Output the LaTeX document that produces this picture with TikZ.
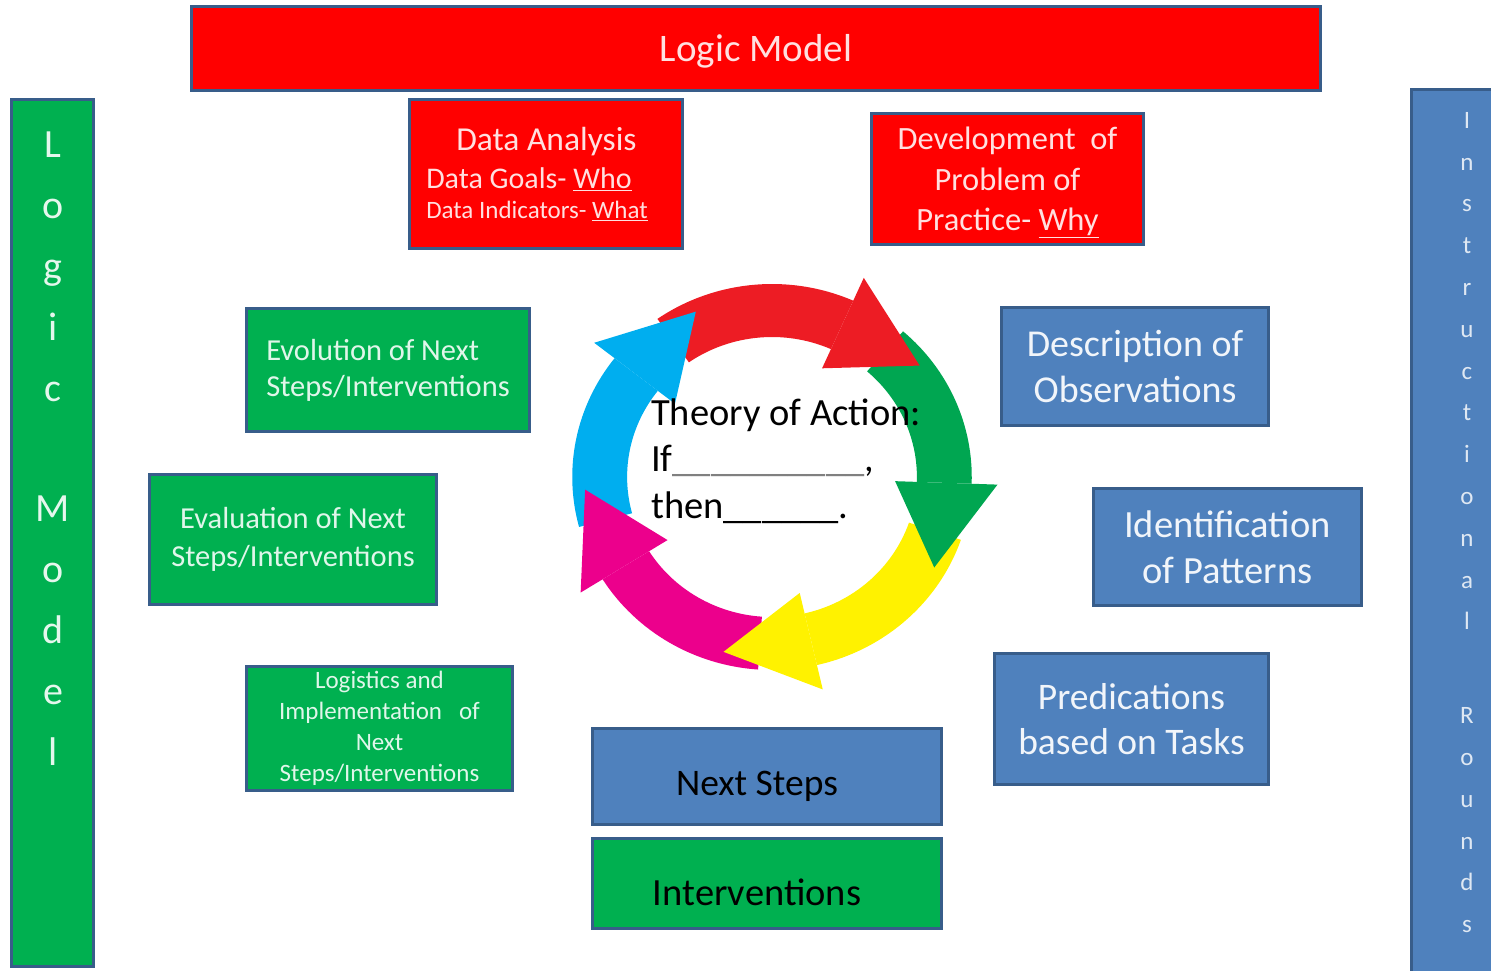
\documentclass[tikz,border=0pt]{standalone}
\usepackage{fontspec}
\setmainfont{Carlito}
\definecolor{bord}{HTML}{385D8A}
\definecolor{boxred}{HTML}{FF0000}
\definecolor{boxgreen}{HTML}{00B050}
\definecolor{boxblue}{HTML}{4F81BD}
\definecolor{arcred}{HTML}{ED1C24}
\definecolor{arcgreen}{HTML}{00A651}
\definecolor{arcyellow}{HTML}{FFF200}
\definecolor{arcmagenta}{HTML}{EC008C}
\definecolor{arccyan}{HTML}{00AEEF}
% ring segment of the cycle: colour, tail angle, head-base angle
\newcommand\cycbody[3]{%
  \fill[#1] (#2:193) arc[start angle=#2, end angle=#3, radius=193]
    -- (#3:140) arc[start angle=#3, end angle=#2, radius=140] -- cycle;}
% arrow head of a ring segment: colour, head-base angle, tip angle
\newcommand\cychead[3]{%
  \fill[#1] (#2:218) -- (#3:181) -- (#2:119) -- cycle;}
\newcommand\fs[2]{\fontsize{#1}{#2}\selectfont}
\begin{document}
\begin{tikzpicture}[x=1pt, y=-1pt,
  box/.style={draw=bord, line width=3pt, inner sep=0pt, align=center},
  redbox/.style={box, fill=boxred, text=white!88!boxred},
  greenbox/.style={box, fill=boxgreen, text=white!88!boxgreen},
  bluebox/.style={box, fill=boxblue, text=white!92!boxblue},
  barlabel/.style={anchor=north, align=center, inner sep=0pt}]
\useasboundingbox (0,0) rectangle (1491,970);

% frame: title and the two side bars
\node[redbox, minimum width=1129pt, minimum height=84pt, font=\fs{39}{47}, text height=30pt, text depth=5pt] (title) at (756,48.5) {Logic Model};
\node[greenbox, minimum width=82pt, minimum height=867pt] (leftbar) at (52.5,533) {};
\node[barlabel, text=white!90!boxgreen, font=\fs{40}{61}] (leftlbl) at (53,132)
  {L\\o\\g\\i\\c\\[59pt]M\\o\\d\\e\\l};
\node[bluebox, minimum width=111pt, minimum height=884pt] (rightbar) at (1467,531.5) {};
\node[barlabel, text=white!82!boxblue, font=\fs{25}{41.8}] (rightlbl) at (1467,112)
  {I\\n\\s\\t\\r\\u\\c\\t\\i\\o\\n\\a\\l\\[52pt]R\\o\\u\\n\\d\\s};

% red boxes
\node[redbox, minimum width=273pt, minimum height=149pt, align=left, font=\fs{30}{38}] (data) at (546,174)
  {\hspace*{30pt}{\fs{33.5}{38}Data Analysis}\\ Data Goals- \underline{Who}\\[-8pt] {\fs{25}{30}Data Indicators- \underline{What}}\hspace*{18pt}};
\node[redbox, minimum width=272pt, minimum height=131pt, font=\fs{32.5}{40.5}, text depth=0pt] (devel) at (1007.5,179)
  {Development\ \ of\\Problem of\\Practice- \underline{Why}};

% green boxes
\node[greenbox, minimum width=283pt, minimum height=123pt, align=left, font=\fs{30.5}{36}] (evol) at (388,370)
  {Evolution of Next\\Steps/Interventions};
\node[greenbox, minimum width=287pt, minimum height=130pt, font=\fs{30.5}{38}] (evalu) at (293,539.5)
  {Evaluation of Next\\Steps/Interventions};
\node[greenbox, minimum width=266pt, minimum height=124pt, font=\fs{25}{31}] (logis) at (379.5,728.5)
  {Logistics and\\Implementation\ \ \ of\\Next\\Steps/Interventions};
\node[greenbox, text=black, minimum width=349pt, minimum height=90pt, font=\fs{38.5}{46}, text height=46pt, text depth=2pt] (interv) at (767,883.5)
  {\hspace*{-20pt}Interventions};

% blue boxes
\node[bluebox, text=black, minimum width=349pt, minimum height=96pt, font=\fs{37.5}{46}, text height=40pt, text depth=3pt] (next) at (767,776.5)
  {\hspace*{-20pt}Next Steps};
\node[bluebox, minimum width=267pt, minimum height=118pt, font=\fs{38}{46}] (descr) at (1135,366.5)
  {Description of\\Observations};
\node[bluebox, minimum width=268pt, minimum height=117pt, font=\fs{38.5}{46}] (ident) at (1227.5,547)
  {Identification\\of Patterns};
\node[bluebox, minimum width=274pt, minimum height=131pt, font=\fs{37.5}{45}] (predic) at (1131.5,719)
  {Predications\\based on Tasks};

% the cycle of five curved arrows
\begin{scope}[shift={(772,477)}, x=1.035pt, y=1pt]
  \cycbody{arcred}{125}{66}
  \cycbody{arcgreen}{49}{-2}
  \cycbody{arcyellow}{-19}{-77}
  \cycbody{arcmagenta}{-94}{-148}
  \cycbody{arccyan}{195}{142}
  \cychead{arcred}{66}{38}
  \cychead{arcgreen}{-2}{-30}
  \cychead{arcyellow}{-77}{-105}
  \cychead{arcmagenta}{-148}{-176}
  \cychead{arccyan}{142}{114}
\end{scope}

% theory of action inside the cycle (anchored on the last line's baseline)
\node[anchor=base west, align=left, inner sep=0pt, font=\fs{38.5}{46.5}] (theory) at (651,518)
  {Theory of Action:\\If\textcolor{gray}{\_\_\_\_\_\_\_\_\_\_},\\then\_\_\_\_\_\_.};
\end{tikzpicture}
\end{document}
